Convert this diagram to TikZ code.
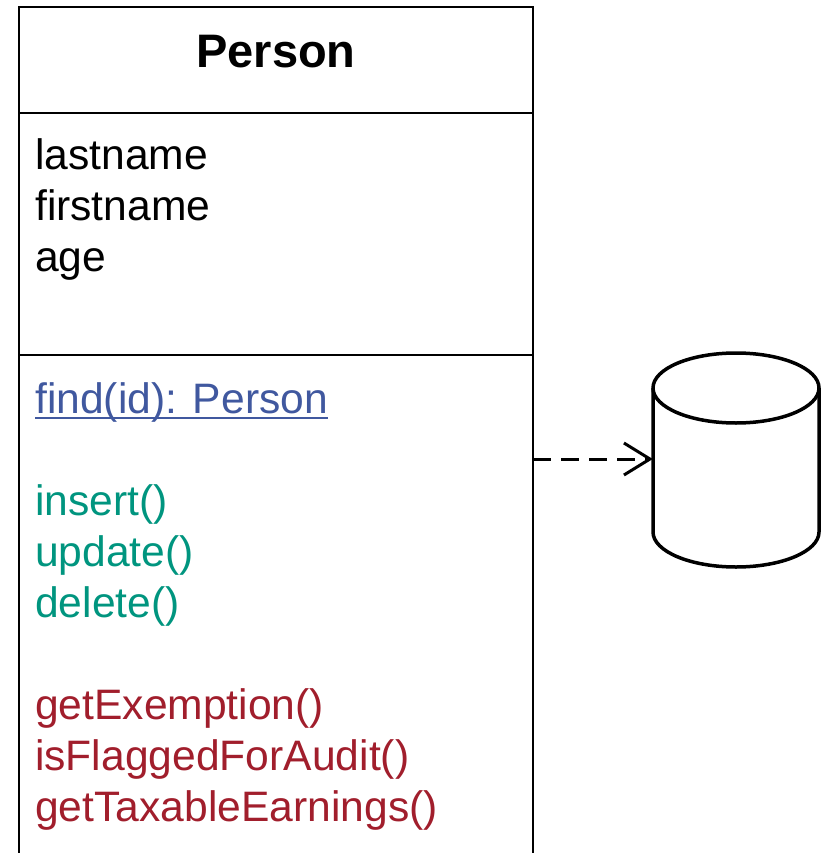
\documentclass[tikz,border=0pt]{standalone}
\usepackage{fontspec}
\setmainfont{Liberation Sans}
\usetikzlibrary{arrows.meta}
\definecolor{staticblue}{HTML}{40589F}
\definecolor{crudgreen}{HTML}{00957F}
\definecolor{logicred}{HTML}{A11E2C}
\tikzset{
  member/.style={inner sep=0pt, anchor=base west, font=\fontsize{42.6}{51}\selectfont},
  titletext/.style={inner sep=0pt, anchor=base, font=\fontsize{47}{56}\selectfont\bfseries},
  classline/.style={line width=2pt, draw=black},
  dbline/.style={line width=3.5pt, draw=black},
  dependency/.style={line width=3pt, dash pattern=on 18pt off 10pt,
    -{Straight Barb[length=26pt, width=32pt, line width=3pt]}},
}
\begin{document}
\begin{tikzpicture}[x=1pt, y=-1pt]
  \useasboundingbox (0,0) rectangle (823,853);
  \clip (0,0) rectangle (823,853);
  \fill[white] (0,0) rectangle (823,853);

  % class box: header, attributes, operations
  \node[draw=none, inner sep=0pt, minimum width=514pt, minimum height=106pt, anchor=north west] (header) at (19,7) {};
  \node[draw=none, inner sep=0pt, minimum width=514pt, minimum height=242pt, anchor=north west] (attrs) at (19,113) {};
  \node[draw=none, inner sep=0pt, minimum width=514pt, minimum height=530pt, anchor=north west] (ops) at (19,355) {};
  \draw[classline] (header.north west) rectangle (ops.south east);
  \draw[classline] (header.south west) -- (header.south east);
  \draw[classline] (attrs.south west) -- (attrs.south east);

  \node[titletext] (title) at (276,68) {Person};

  \node[member] (a1) at (35,169) {lastname};
  \node[member] (a2) at (35,220) {firstname};
  \node[member] (a3) at (35,271) {age};

  \node[member, text=staticblue] (find) at (35,413) {find(id): Person};
  \draw[staticblue, line width=2.5pt] ([yshift=-5pt]find.base west) -- ([yshift=-5pt]find.base east);

  \node[member, text=crudgreen] (m1) at (35,515) {insert()};
  \node[member, text=crudgreen] (m2) at (35,566) {update()};
  \node[member, text=crudgreen] (m3) at (35,617) {delete()};

  \node[member, text=logicred] (m4) at (35,719) {getExemption()};
  \node[member, text=logicred] (m5) at (35,770) {isFlaggedForAudit()};
  \node[member, text=logicred] (m6) at (35,821) {getTaxableEarnings()};

  % database cylinder
  \node[draw=none, inner sep=0pt, minimum width=166pt, minimum height=214pt] (db) at (736,460) {};
  \draw[dbline, fill=white]
    (653,388) -- (653,532)
    arc[start angle=180, end angle=360, x radius=83pt, y radius=35pt]
    -- (819,388)
    arc[start angle=0, end angle=180, x radius=83pt, y radius=35pt] -- cycle;
  \draw[dbline] (653,388) arc[start angle=180, end angle=360, x radius=83pt, y radius=35pt];

  % dependency arrow
  \coordinate (src) at (ops.east |- 0,459);
  \draw[dependency] (src) -- (db.west |- src);
\end{tikzpicture}
\end{document}
